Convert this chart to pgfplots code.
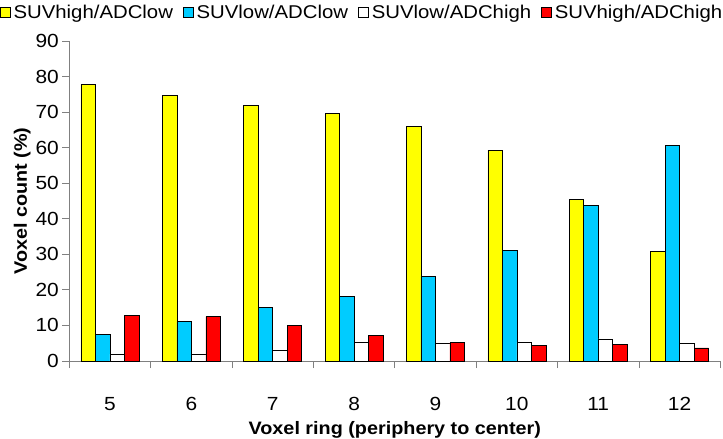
\documentclass[border=0pt]{standalone}
\usepackage{fontspec}
\setmainfont{Liberation Sans}[FakeStretch=1.1]
\usepackage{pgfplots}
\pgfplotsset{compat=1.18}
\definecolor{suvyel}{RGB}{255,255,0}
\definecolor{suvblue}{RGB}{0,204,255}
\definecolor{suvred}{RGB}{255,0,0}
\definecolor{axgray}{RGB}{128,128,128}

\begin{document}
\begin{tikzpicture}
% fix the page to the reference proportions (723 x 439)
\useasboundingbox (-69.3pt,-78pt) rectangle (653.7pt,361pt);
\begin{axis}[
  scale only axis, width=651pt, height=320pt,
  ybar=0pt, bar width=14.5pt,
  xmin=-0.5, xmax=7.5, ymin=0, ymax=90,
  axis x line*=bottom, axis y line*=left,
  axis line style={axgray, line width=0.8pt},
  tick align=outside,
  major tick length=7pt, minor tick length=7pt,
  ytick={0,10,...,90},
  ytick style={axgray, line width=0.8pt},
  xtick={0,...,7}, xticklabels={5,6,7,8,9,10,11,12},
  major x tick style={draw=none},
  minor xtick={-0.5,0.5,...,7.5},
  minor x tick style={axgray, line width=0.8pt},
  /pgf/number format/assume math mode=true,
  every tick label/.append style={font=\fontsize{19}{22}\selectfont},
  xticklabel style={anchor=base, yshift=-42pt},
  xlabel={Voxel ring (periphery to center)},
  xlabel style={font=\fontsize{18}{20}\selectfont\bfseries,
    at={(axis description cs:0.5,0)}, anchor=base, yshift=-73pt},
  ylabel={Voxel count (\%)},
  ylabel style={font=\fontsize{18}{20}\selectfont\bfseries,
    at={(axis description cs:-0.0722,0.5)}, anchor=center},
  legend columns=4,
  legend style={draw=none, fill=none, at={(0.449,1)}, anchor=south, yshift=20pt,
    font=\fontsize{18.5}{22}\selectfont, inner sep=0pt,
    nodes={inner sep=1pt},
    /tikz/every odd column/.append style={column sep=2pt},
    /tikz/every even column/.append style={column sep=9pt}},
  every axis plot post/.append style={
    legend image code/.code={\draw[#1] (0pt,-5pt) rectangle (10pt,5pt);}},
]
\addplot[fill=suvyel, draw=black, line width=0.6pt] coordinates {
  (0,77.8) (1,74.7) (2,71.9) (3,69.6) (4,66.0) (5,59.3) (6,45.5) (7,30.8)};
\addlegendentry{SUVhigh/ADClow}
\addplot[fill=suvblue, draw=black, line width=0.6pt] coordinates {
  (0,7.5) (1,11.1) (2,15.1) (3,18.2) (4,23.8) (5,31.2) (6,43.7) (7,60.7)};
\addlegendentry{SUVlow/ADClow}
\addplot[fill=white, draw=black, line width=0.6pt] coordinates {
  (0,1.9) (1,1.9) (2,3.1) (3,5.3) (4,5.0) (5,5.3) (6,6.2) (7,5.0)};
\addlegendentry{SUVlow/ADChigh}
\addplot[fill=suvred, draw=black, line width=0.6pt] coordinates {
  (0,12.9) (1,12.5) (2,10.0) (3,7.2) (4,5.2) (5,4.5) (6,4.7) (7,3.7)};
\addlegendentry{SUVhigh/ADChigh}
\end{axis}
\end{tikzpicture}
\end{document}
